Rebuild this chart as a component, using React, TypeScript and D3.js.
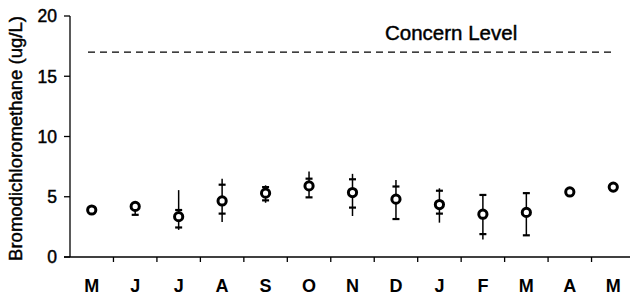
import * as d3 from "d3";

const months = ["M", "J", "J", "A", "S", "O", "N", "D", "J", "F", "M", "A", "M"];
const means = [3.9, 4.2, 3.35, 4.65, 5.3, 5.9, 5.35, 4.8, 4.35, 3.55, 3.7, 5.4, 5.8];
// short horizontal caps
const capHi: (number | null)[] = [null, null, 3.9, 6.0, 5.8, 6.5, 6.45, 5.85, 5.5, 5.15, 5.3, null, null];
const capLo: (number | null)[] = [null, 3.5, 2.45, 3.6, 4.7, 4.95, 4.1, 3.15, 3.6, 1.9, 1.8, 5.15, null];
// full extent of the vertical line
const lineMax: (number | null)[] = [null, null, 5.55, 6.5, 5.95, 7.1, 6.9, 6.4, 5.7, 5.15, 5.3, null, null];
const lineMin: (number | null)[] = [null, 3.5, 2.25, 2.9, 4.5, 4.95, 3.4, 3.15, 2.85, 1.45, 1.8, 5.15, null];
const yTicks = [0, 5, 10, 15, 20];
const concernLevel = 17;

const W = 630;
const H = 295;
const font = "'Liberation Sans', Arial, sans-serif";

export default function App() {
  const x = d3
    .scaleBand<number>()
    .domain(months.map((_, i) => i))
    .range([70, 635])
    .padding(0);
  const y = d3.scaleLinear().domain([0, 20]).range([257, 16]);
  const bw = x.bandwidth();
  const cx = (i: number) => (x(i) as number) + bw / 2;

  // scanned text looks a little heavier than plain regular weight
  const heavy = { stroke: "#000", strokeWidth: 0.45 };

  return (
    <>
      <style>{"body{margin:0}"}</style>
      <svg width={W} height={H} style={{ display: "block", background: "#fff" }} fontFamily={font}>
        {/* y axis */}
        <line x1={70} x2={70} y1={y(20)} y2={y(0)} stroke="#000" strokeWidth={1.3} />
        {yTicks.map((t) => (
          <g key={t}>
            <line x1={64} x2={70} y1={y(t)} y2={y(t)} stroke="#000" strokeWidth={1.3} />
            <text x={57} y={y(t)} dy="0.36em" textAnchor="end" fontSize={17.5} fill="#000" {...heavy}>
              {t}
            </text>
          </g>
        ))}
        <text
          transform={`translate(22,${(y(0) + y(20)) / 2 + 2}) rotate(-90)`}
          textAnchor="middle"
          fontSize={18.5}
          fill="#000"
          {...heavy}
        >
          Bromodichloromethane (ug/L)
        </text>

        {/* x axis */}
        <line x1={64} x2={W} y1={y(0)} y2={y(0)} stroke="#000" strokeWidth={1.3} />
        {months.map((m, i) => (
          <g key={i}>
            {i > 0 && (
              <line x1={x(i)} x2={x(i)} y1={y(0)} y2={y(0) + 5} stroke="#000" strokeWidth={1.3} />
            )}
            <text x={cx(i)} y={292} textAnchor="middle" fontSize={18} fontWeight="bold" fill="#000">
              {m}
            </text>
          </g>
        ))}

        {/* concern level */}
        <line
          x1={88}
          x2={614}
          y1={y(concernLevel)}
          y2={y(concernLevel)}
          stroke="#000"
          strokeWidth={1.3}
          strokeDasharray="7 5"
        />
        <text x={385} y={40} fontSize={20.5} fill="#000" {...heavy}>
          Concern Level
        </text>

        {/* error bars and means */}
        {means.map((v, i) => {
          const top = Math.max(v, lineMax[i] ?? v, capHi[i] ?? v);
          const bot = Math.min(v, lineMin[i] ?? v, capLo[i] ?? v);
          return (
            <g key={i}>
              {top !== bot && (
                <line x1={cx(i)} x2={cx(i)} y1={y(top)} y2={y(bot)} stroke="#000" strokeWidth={1.5} />
              )}
              {capHi[i] != null && (
                <line x1={cx(i) - 3.5} x2={cx(i) + 3.5} y1={y(capHi[i] as number)} y2={y(capHi[i] as number)} stroke="#000" strokeWidth={2.2} />
              )}
              {capLo[i] != null && (
                <line x1={cx(i) - 3.5} x2={cx(i) + 3.5} y1={y(capLo[i] as number)} y2={y(capLo[i] as number)} stroke="#000" strokeWidth={2.2} />
              )}
              <circle cx={cx(i)} cy={y(v)} r={4.1} fill="#fff" stroke="#000" strokeWidth={3} />
            </g>
          );
        })}
      </svg>
    </>
  );
}
